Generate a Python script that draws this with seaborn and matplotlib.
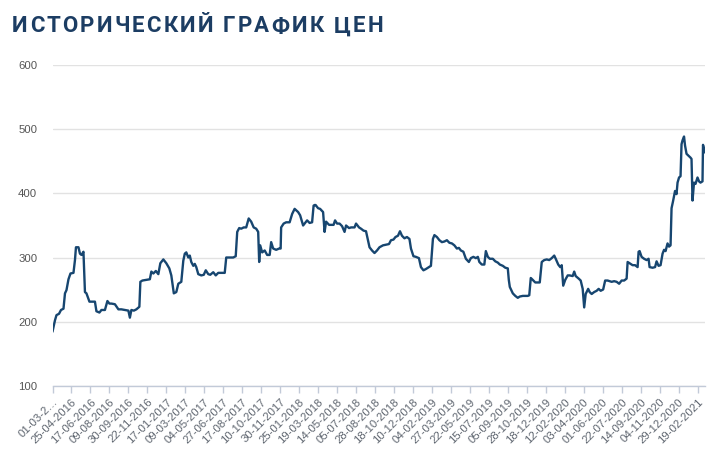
import matplotlib
matplotlib.use("Agg")
import matplotlib.pyplot as plt
import seaborn as sns
import pandas as pd
from matplotlib.font_manager import FontProperties
from matplotlib.textpath import TextToPath

# trading-day index (x) and price (y)
days = [0, 5, 8, 13, 17, 22, 25, 28, 32, 36, 42, 45, 47, 52, 55, 58, 62, 65, 68, 74, 78, 85, 88, 94, 98,
        105, 110, 114, 118, 125, 132, 138, 145, 152, 155, 158, 163, 168, 174, 176, 180, 188, 195, 198, 202,
        207, 212, 216, 222, 228, 234, 238, 243, 248, 252, 258,
        262, 265, 268, 272, 275, 278, 282, 285, 288, 292, 298, 303, 307, 312, 316, 322, 327, 332, 338, 345,
        348, 355, 362, 367, 370, 374, 378, 383, 388, 393, 398, 403, 408, 412, 414, 416, 420, 425, 430, 435,
        438, 442, 448, 454, 457, 458, 463, 468, 475, 480, 485, 492, 496, 502, 505, 510, 515, 520, 523, 525,
        527, 532, 536, 542, 545, 548, 554, 558, 563, 566, 570, 575, 580, 585, 588, 594, 598, 605, 608, 614,
        618, 623, 628, 632, 635, 640, 645, 650, 655, 662, 668, 674, 678, 683, 687, 692, 696, 700, 705, 710,
        715, 718, 723, 728, 734, 738, 743, 748, 754, 758, 762, 765, 770, 775, 780,
        785, 790, 795, 800, 805, 810, 814, 818, 823, 828, 834, 838, 843, 848, 852, 855, 860, 865, 868, 872,
        876, 882, 887, 892, 896, 902, 907, 912, 914, 916, 922, 927, 932, 936, 942, 947, 952, 955, 958, 962,
        967, 972, 976, 980, 985, 990, 995, 1000, 1005, 1008, 1013, 1017, 1020, 1023, 1027, 1032, 1036, 1042,
        1045, 1048, 1054, 1058, 1062, 1065, 1068, 1073, 1076, 1080, 1085, 1090, 1094, 1098, 1103, 1107, 1112,
        1116, 1120, 1125, 1130, 1135, 1140, 1145, 1150, 1152, 1156, 1162, 1167, 1172, 1174, 1176, 1180, 1185,
        1190, 1194, 1196, 1202, 1207, 1210, 1214, 1218, 1222, 1225, 1228, 1232, 1235, 1238, 1240, 1243, 1247,
        1250, 1252, 1255, 1258, 1260, 1262, 1265, 1267, 1270, 1274, 1278, 1280, 1282, 1285, 1288, 1292, 1295,
        1298, 1302, 1303, 1307]

prices = [184, 202, 210, 212, 218, 220, 244, 249, 266, 275, 276, 296, 316, 316, 306, 304, 309, 246, 244, 231,
          231, 231, 216, 214, 218, 218, 232, 228, 228, 227, 219, 219, 218, 217, 206, 218, 217, 219, 223, 262,
          264, 265, 266, 278, 275, 279, 274, 291, 297, 291, 283, 272, 244, 246, 259, 262,
          295, 306, 308, 300, 303, 293, 287, 290, 285, 274, 272, 273, 280, 274, 273, 277, 272, 276, 276, 276,
          300, 300, 300, 302, 340, 346, 345, 347, 347, 361, 356, 347, 345, 340, 293, 319, 308, 311, 304, 304,
          324, 314, 312, 314, 314, 347, 353, 355, 355, 368, 376, 371, 366, 350, 353, 358, 354, 355, 381, 382,
          382, 377, 376, 371, 340, 356, 351, 351, 351, 358, 353, 353, 349, 340, 350, 346, 347, 347, 353, 347,
          345, 342, 341, 327, 316, 311, 307, 311, 316, 319, 320, 321, 327, 328, 332, 334, 341, 334, 330, 332,
          329, 314, 302, 301, 299, 285, 280, 282, 285, 287, 329, 335, 332, 327, 324,
          325, 327, 323, 322, 319, 314, 315, 311, 309, 298, 293, 299, 301, 299, 301, 293, 289, 289, 310, 301,
          298, 298, 294, 292, 289, 287, 284, 283, 265, 254, 244, 240, 237, 239, 240, 240, 240, 241, 268, 265,
          261, 261, 261, 293, 296, 297, 296, 299, 303, 298, 289, 285, 288, 256, 265, 272, 272, 271,
          278, 271, 267, 264, 251, 222, 243, 251, 246, 243, 246, 248, 251, 248, 250, 264, 264,
          263, 262, 263, 262, 259, 264, 264, 267, 293, 291, 288, 288, 285, 309, 310, 301, 298,
          296, 298, 285, 284, 285, 294, 287, 288, 306, 312, 310, 322, 317, 319, 377, 388, 404,
          399, 417, 425, 427, 477, 483, 489, 475, 462, 459, 456, 454, 389, 417, 415, 425, 419,
          417, 419, 476, 464]

tick_labels = ["01-03-2…", "25-04-2016", "17-06-2016", "09-08-2016", "30-09-2016", "22-11-2016",
               "17-01-2017", "09-03-2017", "04-05-2017", "27-06-2017", "17-08-2017", "10-10-2017",
               "30-11-2017", "25-01-2018", "19-03-2018", "14-05-2018", "05-07-2018", "28-08-2018",
               "18-10-2018", "10-12-2018", "04-02-2019", "27-03-2019", "22-05-2019", "15-07-2019",
               "05-09-2019", "28-10-2019", "18-12-2019", "12-02-2020", "03-04-2020", "01-06-2020",
               "22-07-2020", "14-09-2020", "04-11-2020", "29-12-2020", "19-02-2021"]
y_ticks = [100, 200, 300, 400, 500, 600]
title = "ИСТОРИЧЕСКИЙ ГРАФИК ЦЕН"

sns.set_style("white")
plt.rcParams['font.family'] = ['Liberation Sans', 'DejaVu Sans']

df = pd.DataFrame({"day": days, "price": prices})

W, H = 716, 455
fig = plt.figure(figsize=(W / 100, H / 100), dpi=100)
ax = fig.add_axes([52.5 / W, 1 - 385.5 / H, (705 - 52.5) / W, 320 / H])

sns.lineplot(data=df, x="day", y="price", ax=ax, color="#174670", linewidth=1.7)

step = 38
ax.set_xlim(0, 1307)
ax.set_ylim(100, 600)
ax.set_xticks([i * step for i in range(len(tick_labels))])
ax.set_xticklabels(tick_labels, rotation=45, ha="right", rotation_mode="anchor",
                   fontsize=8.2, color="#5f6670")
ax.set_yticks(y_ticks)
ax.set_yticklabels([str(v) for v in y_ticks], fontsize=8.2, color="#555555")
ax.set_xlabel("")
ax.set_ylabel("")

ax.grid(axis="y", color="#e2e2e2", linewidth=1)
ax.set_axisbelow(True)
for s in ["top", "right", "left"]:
    ax.spines[s].set_visible(False)
ax.spines["bottom"].set_color("#c2cad8")
ax.spines["bottom"].set_linewidth(1)
ax.tick_params(axis="x", length=5, width=1, color="#c2cad8", pad=3, direction="out", bottom=True)
ax.tick_params(axis="y", length=0, pad=11)

# title with letter spacing, fitted to span 12..383 px
prop = FontProperties(family="Roboto", weight="bold", size=16)
ttp = TextToPath()
x0_px, x1_px = 12, 383
def width_px(s):
    if not s:
        return 0.0
    return ttp.get_text_width_height_descent(s, prop, ismath=False)[0] * 100 / 72
full_w = width_px(title)
spacing_px = (x1_px - x0_px - full_w) / (len(title) - 1)
for i, ch in enumerate(title):
    x_px = x0_px + width_px(title[:i]) + i * spacing_px
    if ch != " ":
        fig.text(x_px / W, 1 - 32.5 / H, ch, fontproperties=prop, color="#1c3d63",
                 va="baseline", ha="left")

fig.savefig("out.png", dpi=100)
